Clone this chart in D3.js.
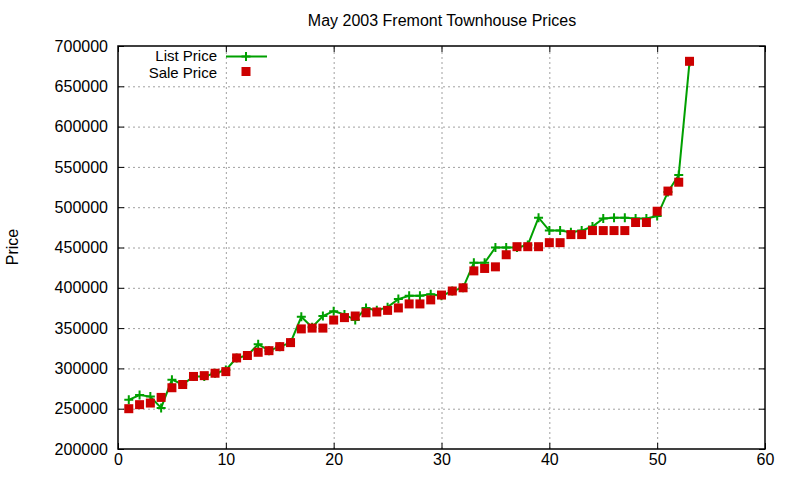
<!DOCTYPE html>
<html>
<head>
  <meta charset="UTF-8">
  <title>May 2003 Fremont Townhouse Prices</title>
  <style>
  body { margin:0; background:#fff; }
  svg text { font-family:"Liberation Sans",Arial,sans-serif; fill:#000; }
  </style>
</head>
<body>
  <div id="chart"></div>
  <script src="https://d3js.org/d3.v7.min.js"></script>
  <script>
    // house number on the list (1..53)
    var houses = d3.range(1, 54);

    var listPrice = [
      261000, 267000, 265000, 251000, 286000, 280000, 290000, 290000, 294000, 298000,
      313000, 316000, 330000, 322000, 327000, 332000, 364000, 351000, 365000, 371000,
      367000, 360000, 375000, 372000, 376000, 386000, 390000, 390000, 392000, 390000,
      396000, 400000, 431000, 431000, 450000, 450000, 450000, 453000, 487000, 471000,
      471000, 469000, 471000, 476000, 486000, 487000, 487000, 486000, 486000, 489000,
      519000, 540000, 680000
    ];

    var salePrice = [
      250000, 255000, 257000, 264000, 276000, 280000, 290000, 291000, 294000, 296000,
      313000, 316000, 320000, 322000, 327000, 332000, 349000, 350000, 350000, 360000,
      363000, 365000, 369000, 370000, 372000, 375000, 380000, 380000, 385000, 391000,
      396000, 400000, 421000, 424000, 426000, 441000, 451000, 451000, 451000, 456000,
      456000, 466000, 466000, 471000, 471000, 471000, 471000, 481000, 481000, 495000,
      520000, 531000, 681000
    ];

    var xTicks = [0, 10, 20, 30, 40, 50, 60];
    var yTicks = d3.range(200000, 700001, 50000);

    var data = houses.map(function(h, i) {
      return { n: h, list: listPrice[i], sale: salePrice[i] };
    });

    var svg = d3.select("#chart").append("svg")
        .attr("width", 800)
        .attr("height", 480),
      margin = { top: 46, right: 35, bottom: 31, left: 118 },
      width = 800 - margin.left - margin.right,
      height = 480 - margin.top - margin.bottom,
      g = svg.append("g").attr("transform", "translate(" + margin.left + "," + margin.top + ")");

    var x = d3.scaleLinear().domain([0, 60]).range([0, width]);
    var y = d3.scaleLinear().domain([200000, 700000]).range([height, 0]);

    // grid
    var gx = g.append("g")
        .attr("transform", "translate(0," + height + ")")
        .call(d3.axisBottom(x).tickValues(xTicks.slice(1, -1)).tickSize(-height).tickFormat(""));
    var gy = g.append("g")
        .call(d3.axisLeft(y).tickValues(yTicks.slice(1, -1)).tickSize(-width).tickFormat(""));
    [gx, gy].forEach(function(a) {
      a.select(".domain").remove();
      a.selectAll("line")
        .attr("stroke", "#a0a0a0")
        .attr("stroke-width", 1)
        .attr("stroke-dasharray", "2,3");
    });

    // axes, ticks point inward like the original
    g.append("g")
        .attr("transform", "translate(0," + height + ")")
        .call(d3.axisBottom(x).tickValues(xTicks).tickSize(-6).tickSizeOuter(0).tickPadding(5))
        .attr("font-size", 16);
    g.append("g")
        .call(d3.axisTop(x).tickValues(xTicks).tickSize(-6).tickSizeOuter(0).tickFormat(""));
    g.append("g")
        .call(d3.axisLeft(y).tickValues(yTicks).tickSize(-6).tickSizeOuter(0).tickPadding(10)
          .tickFormat(d3.format("d")))
        .attr("font-size", 16);
    g.append("g")
        .attr("transform", "translate(" + width + ",0)")
        .call(d3.axisRight(y).tickValues(yTicks).tickSize(-6).tickSizeOuter(0).tickFormat(""));

    g.selectAll(".domain").remove();
    g.append("rect")
        .attr("width", width)
        .attr("height", height)
        .attr("fill", "none")
        .attr("stroke", "#000")
        .attr("stroke-width", 1.5);

    var line = d3.line()
      .x(function(d) { return x(d.n); })
      .y(function(d) { return y(d.list); });

    g.append("path")
        .datum(data)
        .attr("fill", "none")
        .attr("stroke", "#00a000")
        .attr("stroke-width", 2)
        .attr("d", line);

    g.selectAll(".lp")
        .data(data)
      .enter().append("path")
        .attr("class", "lp")
        .attr("stroke", "#00a000")
        .attr("stroke-width", 2)
        .attr("d", "M-4.5,0H4.5M0,-4.5V4.5")
        .attr("transform", function(d) { return "translate(" + x(d.n) + "," + y(d.list) + ")"; });

    g.selectAll(".sp")
        .data(data)
      .enter().append("rect")
        .attr("class", "sp")
        .attr("x", function(d) { return x(d.n) - 4.5; })
        .attr("y", function(d) { return y(d.sale) - 4.5; })
        .attr("width", 9)
        .attr("height", 9)
        .attr("fill", "#cc0000");

    // title and label
    svg.append("text")
        .attr("x", 442)
        .attr("y", 26)
        .attr("text-anchor", "middle")
        .attr("font-size", 16)
        .text("May 2003 Fremont Townhouse Prices");

    svg.append("text")
        .attr("transform", "translate(18,247) rotate(-90)")
        .attr("text-anchor", "middle")
        .attr("font-size", 16)
        .text("Price");

    // legend
    var legend = svg.append("g").attr("font-size", 15).attr("text-anchor", "end");
    legend.append("text").attr("x", 217).attr("y", 60.5).text("List Price");
    legend.append("line")
        .attr("x1", 226).attr("x2", 267).attr("y1", 56.5).attr("y2", 56.5)
        .attr("stroke", "#00a000").attr("stroke-width", 2);
    legend.append("path")
        .attr("d", "M-4.5,0H4.5M0,-4.5V4.5")
        .attr("transform", "translate(246,56.5)")
        .attr("stroke", "#00a000").attr("stroke-width", 2);
    legend.append("text").attr("x", 217).attr("y", 77.5).text("Sale Price");
    legend.append("rect")
        .attr("x", 241.5).attr("y", 67).attr("width", 9).attr("height", 9)
        .attr("fill", "#cc0000");
  </script>
</body>
</html>
